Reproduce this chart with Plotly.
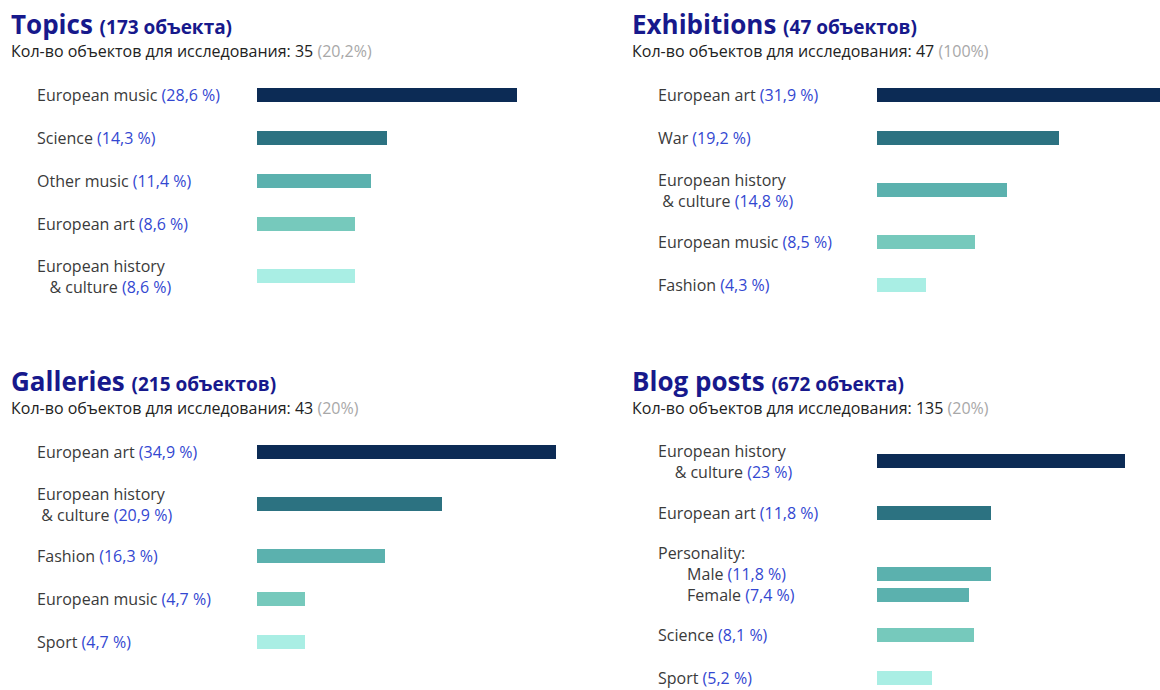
import plotly.graph_objects as go

# ---------------- data ----------------
topics_cats = ["European music", "Science", "Other music", "European art", "European history\n& culture"]
topics_pct = ["28,6 %", "14,3 %", "11,4 %", "8,6 %", "8,6 %"]
topics_len = [260, 130, 114, 98, 98]

exh_cats = ["European art", "War", "European history\n& culture", "European music", "Fashion"]
exh_pct = ["31,9 %", "19,2 %", "14,8 %", "8,5 %", "4,3 %"]
exh_len = [300, 182, 130, 98, 49]

gal_cats = ["European art", "European history\n& culture", "Fashion", "European music", "Sport"]
gal_pct = ["34,9 %", "20,9 %", "16,3 %", "4,7 %", "4,7 %"]
gal_len = [299, 185, 128, 48, 48]

blog_cats = ["European history\n& culture", "European art", "Male", "Female", "Science", "Sport"]
blog_pct = ["23 %", "11,8 %", "11,8 %", "7,4 %", "8,1 %", "5,2 %"]
blog_len = [248, 114, 114, 92, 97, 55]
blog_group_header = "Personality:"
blog_group_members = ["Male", "Female"]

titles = ["Topics", "Exhibitions", "Galleries", "Blog posts"]
title_counts = ["(173 объекта)", "(47 объектов)", "(215 объектов)", "(672 объекта)"]
sample_n = [35, 47, 43, 135]
sample_share = ["(20,2%)", "(100%)", "(20%)", "(20%)"]

palette5 = ["#0c2b55", "#2c7281", "#5bb1ae", "#76c9bc", "#a9eee4"]
blog_colors = ["#0c2b55", "#2c7281", "#5bb1ae", "#5bb1ae", "#76c9bc", "#a9eee4"]

# ---------------- style / layout ----------------
W, H = 1160, 690
FONT = "Open Sans"
LABEL_SIZE = 16
TITLE_C = "#17198c"
TEXT_C = "#3a3a3a"
PCT_C = "#3347d1"
GRAY_C = "#a8a8a8"
ROW_LINE = 18                 # row height contribution per text line
PAD = 25
TEXT_PITCH = LABEL_SIZE * 1.3  # plotly's line spacing inside a multi-line annotation
NB = "\u00a0"
SUB_SP = 7

panels = [
    dict(cats=topics_cats, pct=topics_pct, lens=topics_len, colors=palette5,
         tx=11, lx=36, bx0=257, bx1=620, top=73.5, ty=24, sy=51, indent_sp=3),
    dict(cats=exh_cats, pct=exh_pct, lens=exh_len, colors=palette5,
         tx=632, lx=657, bx0=877, bx1=1160, top=73.5, ty=24, sy=51, indent_sp=1),
    dict(cats=gal_cats, pct=gal_pct, lens=gal_len, colors=palette5,
         tx=11, lx=36, bx0=257, bx1=620, top=430.5, ty=381, sy=408, indent_sp=1),
    dict(cats=blog_cats, pct=blog_pct, lens=blog_len, colors=blog_colors,
         tx=632, lx=657, bx0=877, bx1=1160, top=430.5, ty=381, sy=408, indent_sp=4,
         header=blog_group_header, members=blog_group_members),
]


def pct_html(p):
    return f"<span style='color:{PCT_C}'>({p})</span>"


def build_rows(cats, pct, top, indent_sp, header=None, members=()):
    blocks = []
    i = 0
    while i < len(cats):
        if cats[i] in members:
            idxs = []
            while i < len(cats) and cats[i] in members:
                idxs.append(i)
                i += 1
            blocks.append(("group", idxs))
        else:
            blocks.append(("single", [i]))
            i += 1
    y = top
    bar_y = [None] * len(cats)
    labels = []  # (center_y, html)
    for kind, idxs in blocks:
        if kind == "group":
            n = 1 + len(idxs)
        else:
            n = len(cats[idxs[0]].split("\n"))
        h = PAD + ROW_LINE * n
        c = y + h / 2
        if kind == "group":
            first = c - TEXT_PITCH * (n - 1) / 2
            rows = [header]
            for k, j in enumerate(idxs):
                bar_y[j] = first + TEXT_PITCH * (k + 1)
                rows.append(NB * SUB_SP + f"{cats[j]} {pct_html(pct[j])}")
            labels.append((c, "<br>".join(rows)))
        else:
            j = idxs[0]
            bar_y[j] = c
            parts = cats[j].split("\n")
            rows = []
            for k, p in enumerate(parts):
                txt = p if k < len(parts) - 1 else f"{p} {pct_html(pct[j])}"
                rows.append((NB * indent_sp if k > 0 else "") + txt)
            labels.append((c, "<br>".join(rows)))
        y += h
    return bar_y, labels


fig = go.Figure()
annotations = []
for pi, P in enumerate(panels):
    ax = "" if pi == 0 else str(pi + 1)
    bar_y, labels = build_rows(P["cats"], P["pct"], P["top"], P["indent_sp"],
                               P.get("header"), P.get("members", ()))
    fig.add_trace(go.Bar(
        x=P["lens"], y=bar_y, orientation="h", width=13.5,
        marker=dict(color=P["colors"], line=dict(width=0)),
        xaxis="x" + ax, yaxis="y" + ax, hoverinfo="skip", showlegend=False,
    ))
    fig.update_layout(**{
        "xaxis" + ax: dict(domain=[P["bx0"] / W, P["bx1"] / W], range=[0, P["bx1"] - P["bx0"]],
                           visible=False, fixedrange=True, anchor="y" + ax),
        "yaxis" + ax: dict(domain=[0, 1], range=[H, 0], visible=False, fixedrange=True,
                           anchor="x" + ax),
    })
    for ly, txt in labels:
        annotations.append(dict(
            x=P["lx"] / W, xref="paper", y=ly, yref="y" + ax, text=txt, showarrow=False,
            xanchor="left", yanchor="middle", xshift=-1, align="left",
            font=dict(family=FONT, size=LABEL_SIZE, color=TEXT_C),
        ))
    annotations.append(dict(
        x=P["tx"] / W, xref="paper", y=P["ty"], yref="y" + ax,
        text=f"<b>{titles[pi]}</b> <b><span style='font-size:19px'>{title_counts[pi]}</span></b>",
        showarrow=False, xanchor="left", yanchor="middle", xshift=-2,
        font=dict(family=FONT, size=26, color=TITLE_C),
    ))
    annotations.append(dict(
        x=P["tx"] / W, xref="paper", y=P["sy"], yref="y" + ax,
        text=f"Кол-во объектов для исследования: {sample_n[pi]} "
             f"<span style='color:{GRAY_C}'>{sample_share[pi]}</span>",
        showarrow=False, xanchor="left", yanchor="middle", xshift=-2,
        font=dict(family=FONT, size=16, color="#222222"),
    ))

fig.update_layout(
    width=W, height=H, margin=dict(l=0, r=0, t=0, b=0),
    paper_bgcolor="white", plot_bgcolor="rgba(0,0,0,0)",
    annotations=annotations, bargap=0, font=dict(family=FONT),
)
fig.write_html(
    "out.html",
    config={"displayModeBar": False},
    post_script="document.body.style.margin='0';document.body.style.overflow='hidden';",
)
